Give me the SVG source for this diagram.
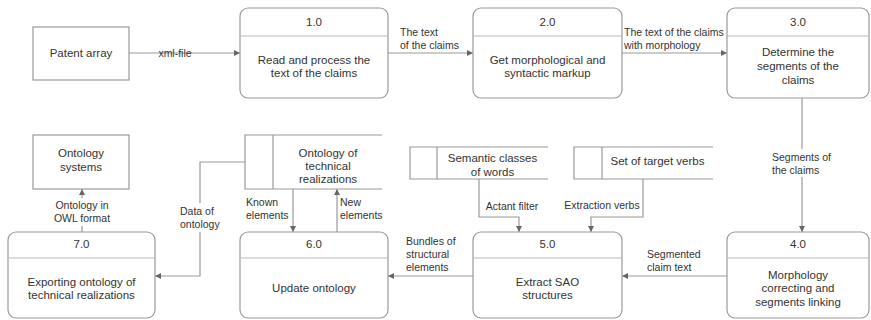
<svg xmlns="http://www.w3.org/2000/svg" width="871" height="320" viewBox="0 0 871 320">
<defs>
<marker id="arr" viewBox="0 0 10 10" refX="10" refY="5" markerWidth="7" markerHeight="6" markerUnits="userSpaceOnUse" orient="auto">
<path d="M0,0 L10,5 L0,10 z" fill="#666"/>
</marker>
<style>
.box{fill:#fff;stroke:#999;stroke-width:1.2}
.hdr{stroke:#bbb;stroke-width:1}
.ln{fill:none;stroke:#999;stroke-width:1.2}
.t{font-family:"Liberation Sans",Arial,sans-serif;font-size:11.5px;fill:#333;text-anchor:middle}
.l{font-family:"Liberation Sans",Arial,sans-serif;font-size:10.5px;fill:#333}
.lc{text-anchor:middle}
.bg{fill:#fff}
</style>
</defs>
<rect width="871" height="320" fill="#fff"/>

<g id="connectors">
<path class="ln" d="M129,53 H240" marker-end="url(#arr)"/>
<text class="l lc" x="175" y="57">xml-file</text>
<path class="ln" d="M388,53 H473" marker-end="url(#arr)"/>
<text class="l" x="400" y="36">The text</text>
<text class="l" x="400" y="49">of the claims</text>
<path class="ln" d="M622,53 H727" marker-end="url(#arr)"/>
<text class="l" x="624" y="36">The text of the claims</text>
<text class="l" x="624" y="49">with morphology</text>
<path class="ln" d="M802,98 V232" marker-end="url(#arr)"/>
<rect class="bg" x="770" y="149" width="62" height="28"/>
<text class="l" x="772" y="161">Segments of</text>
<text class="l" x="772" y="174">the claims</text>
<path class="ln" d="M727,276 H622" marker-end="url(#arr)"/>
<text class="l" x="647" y="258">Segmented</text>
<text class="l" x="647" y="271">claim text</text>
<path class="ln" d="M473,276 H388" marker-end="url(#arr)"/>
<text class="l" x="406" y="245">Bundles of</text>
<text class="l" x="406" y="258">structural</text>
<text class="l" x="406" y="271">elements</text>
<path class="ln" d="M479,179 V217 H519 V232" marker-end="url(#arr)"/>
<text class="l lc" x="512" y="210">Actant filter</text>
<path class="ln" d="M643,179 V217 H591 V232" marker-end="url(#arr)"/>
<text class="l lc" x="602" y="209">Extraction verbs</text>
<path class="ln" d="M293,189 V232" marker-end="url(#arr)"/>
<text class="l" x="246" y="206">Known</text>
<text class="l" x="246" y="219">elements</text>
<path class="ln" d="M337,232 V189" marker-end="url(#arr)"/>
<text class="l" x="340" y="206">New</text>
<text class="l" x="340" y="219">elements</text>
<path class="ln" d="M245,162 H200 V276 H155" marker-end="url(#arr)"/>
<rect class="bg" x="178" y="203" width="44" height="29"/>
<text class="l" x="180" y="215">Data of</text>
<text class="l" x="180" y="228">ontology</text>
<path class="ln" d="M82,232 V189" marker-end="url(#arr)"/>
<rect class="bg" x="52" y="198" width="60" height="28"/>
<text class="l lc" x="82" y="209">Ontology in</text>
<text class="l lc" x="82" y="222">OWL format</text>
</g>

<g id="patent-array">
<rect class="box" x="33" y="27" width="96" height="53"/>
<text class="t" x="81" y="57">Patent array</text>
</g>

<g id="p1">
<rect class="box" x="240" y="8" width="148" height="90" rx="8"/>
<line class="hdr" x1="240" y1="36" x2="388" y2="36"/>
<text class="t" x="314" y="26">1.0</text>
<text class="t" x="314" y="64">Read and process the</text>
<text class="t" x="314" y="77">text of the claims</text>
</g>

<g id="p2">
<rect class="box" x="473" y="8" width="149" height="90" rx="8"/>
<line class="hdr" x1="473" y1="36" x2="622" y2="36"/>
<text class="t" x="547.5" y="26">2.0</text>
<text class="t" x="547.5" y="64">Get morphological and</text>
<text class="t" x="547.5" y="77">syntactic markup</text>
</g>

<g id="p3">
<rect class="box" x="727" y="8" width="142" height="90" rx="8"/>
<line class="hdr" x1="727" y1="36" x2="869" y2="36"/>
<text class="t" x="798" y="26">3.0</text>
<text class="t" x="798" y="56">Determine the</text>
<text class="t" x="798" y="70">segments of the</text>
<text class="t" x="798" y="84">claims</text>
</g>

<g id="p4">
<rect class="box" x="727" y="232" width="142" height="86" rx="8"/>
<line class="hdr" x1="727" y1="258" x2="869" y2="258"/>
<text class="t" x="798" y="248">4.0</text>
<text class="t" x="798" y="279">Morphology</text>
<text class="t" x="798" y="292">correcting and</text>
<text class="t" x="798" y="306">segments linking</text>
</g>

<g id="p5">
<rect class="box" x="473" y="232" width="149" height="86" rx="8"/>
<line class="hdr" x1="473" y1="258" x2="622" y2="258"/>
<text class="t" x="547.5" y="248">5.0</text>
<text class="t" x="547.5" y="286">Extract SAO</text>
<text class="t" x="547.5" y="299">structures</text>
</g>

<g id="p6">
<rect class="box" x="240" y="232" width="148" height="86" rx="8"/>
<line class="hdr" x1="240" y1="258" x2="388" y2="258"/>
<text class="t" x="314" y="248">6.0</text>
<text class="t" x="314" y="292">Update ontology</text>
</g>

<g id="p7">
<rect class="box" x="8" y="232" width="147" height="86" rx="8"/>
<line class="hdr" x1="8" y1="258" x2="155" y2="258"/>
<text class="t" x="81.5" y="248">7.0</text>
<text class="t" x="81.5" y="286">Exporting ontology of</text>
<text class="t" x="81.5" y="299">technical realizations</text>
</g>

<g id="ontology-systems">
<rect class="box" x="33" y="135" width="96" height="54"/>
<text class="t" x="81" y="157">Ontology</text>
<text class="t" x="81" y="171">systems</text>
</g>

<g id="store-ontology">
<path class="ln" d="M382,135 H245 V189 H382 M273,135 V189"/>
<text class="t" x="328" y="157">Ontology of</text>
<text class="t" x="328" y="170">technical</text>
<text class="t" x="328" y="183">realizations</text>
</g>

<g id="store-semantic">
<path class="ln" d="M548,147 H410 V179 H548 M437,147 V179"/>
<text class="t" x="492.5" y="162">Semantic classes</text>
<text class="t" x="492.5" y="176">of words</text>
</g>

<g id="store-verbs">
<path class="ln" d="M713,147 H574 V179 H713 M602,147 V179"/>
<text class="t" x="657.5" y="165">Set of target verbs</text>
</g>
</svg>
